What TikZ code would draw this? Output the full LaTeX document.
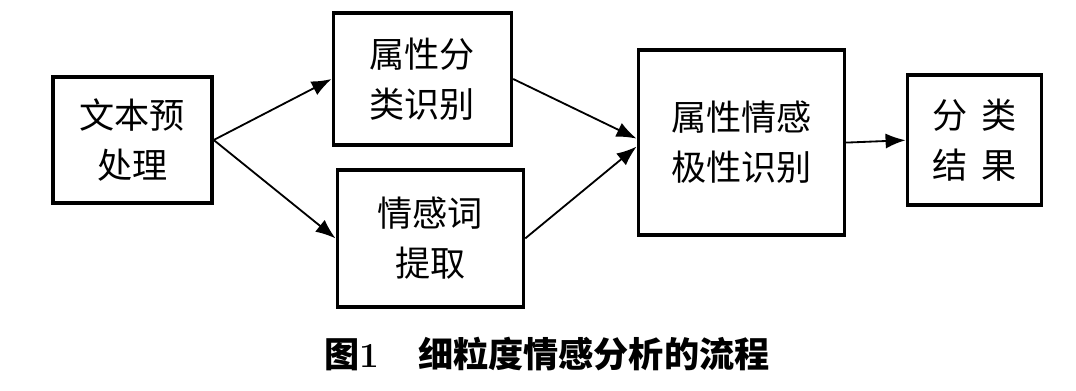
\documentclass[tikz,border=0pt]{standalone}
\usepackage{fontspec}
\newfontfamily\cjk{Noto Sans CJK SC}
\usetikzlibrary{arrows.meta}

\begin{document}
\begin{tikzpicture}[node distance=7.25cm,
  box/.style={rectangle, draw, line width=2.6pt, align=center, inner sep=0pt,
    font=\cjk\fontsize{25}{35.5}\selectfont},
  flow/.style={-{Latex[length=0.5cm, width=0.38cm]}, line width=1.3pt}]
  \useasboundingbox (0,0) rectangle (26.9,-9.75);

  \node[box, minimum width=3.975cm, minimum height=3.15cm] (prep) at (3.31,-3.5) {文本预\\处理};
  \node[box, minimum width=4.45cm, minimum height=3.3cm] (attr) [right of=prep, yshift=1.525cm] {属性分\\类识别};
  \node[box, minimum width=4.65cm, minimum height=3.425cm] (senti) [right of=prep, xshift=0.2cm, yshift=-2.46cm] {情感词\\提取};
  \node[box, minimum width=5.15cm, minimum height=4.625cm] (polar) [right of=attr, xshift=0.725cm, yshift=-1.59cm] {属性情感\\极性识别};
  \node[box, minimum width=3.35cm, minimum height=3.25cm] (result) [right of=polar, xshift=-1.425cm, yshift=0.06cm] {分\hspace{0.4em}类\\结\hspace{0.4em}果};

  \node (caption) at (13.675,-8.85) {\fontsize{25}{30}\selectfont\bfseries{\cjk 图}1\hspace{1.1em}{\cjk 细粒度情感分析的流程}};

  \draw[flow] (prep.east) -- (attr.west);
  \draw[flow] (prep.east) -- (senti.west);
  \draw[flow] (attr.east) -- ([yshift=0.1cm]polar.west);
  \draw[flow] (senti.east) -- ([yshift=-0.1cm]polar.west);
  \draw[flow] (polar.east) -- (result.west);
\end{tikzpicture}
\end{document}
